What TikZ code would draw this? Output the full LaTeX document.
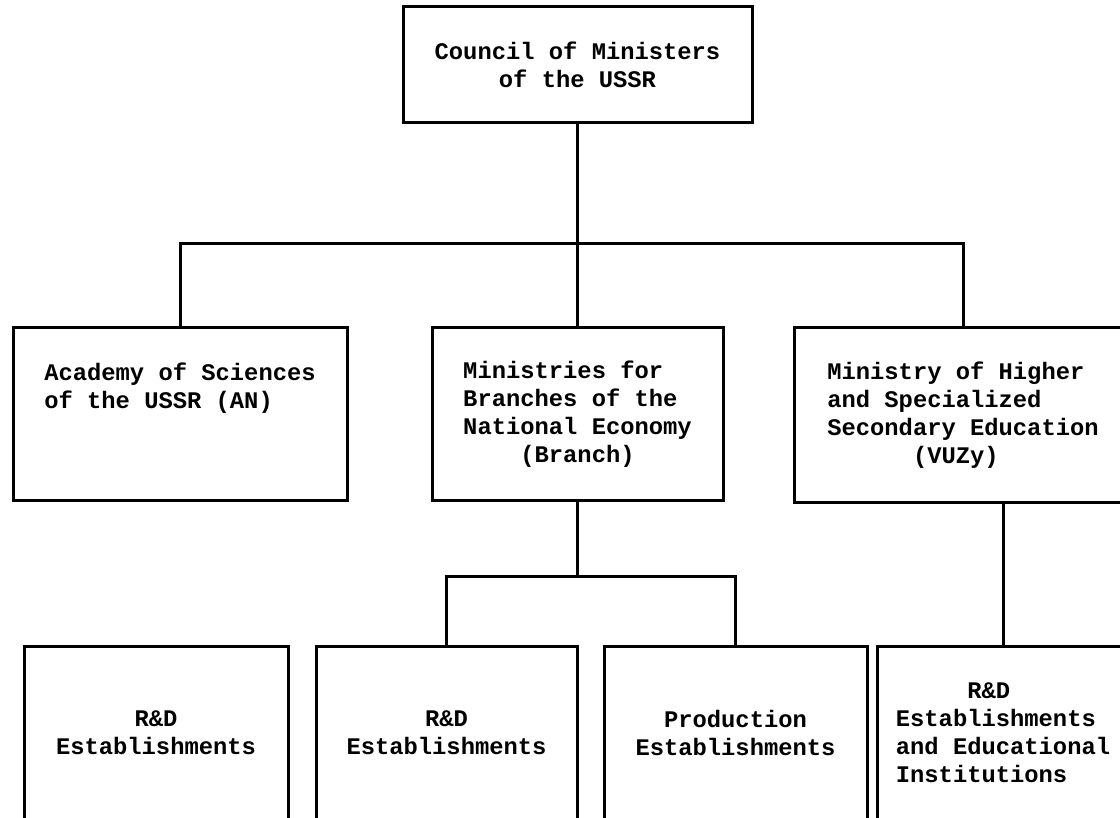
\documentclass[tikz,border=0pt]{standalone}
\usepackage{fontspec}
\setmonofont{Liberation Mono}
\newcommand\pad[1]{\hspace*{#1\fontcharwd\font`M\relax}}
\begin{document}
\begin{tikzpicture}[x=0.5pt,y=-0.5pt,
  unit/.style={draw,line width=1.5pt,inner sep=0pt,
    font=\fontsize{11.9}{14}\selectfont\ttfamily\bfseries},
  link/.style={line width=1.5pt}]
\clip (0,0) rectangle (1120,818);
\node[unit,minimum width=174.5pt,minimum height=58pt,align=center] (ussr) at (577.5,65)
  {Council of Ministers\\of the USSR};
\node[unit,minimum width=167pt,minimum height=86pt,align=left] (an) at (180,414)
  {Academy of Sciences\\of the USSR (AN)\\\mbox{}\\\mbox{}};
\node[unit,minimum width=145.5pt,minimum height=86pt,align=left] (branch) at (577.5,414)
  {Ministries for\\Branches of the\\National Economy\\\pad{4}(Branch)};
\node[unit,minimum width=169pt,minimum height=87pt,align=left] (vuz) at (963,415)
  {Ministry of Higher\\and Specialized\\Secondary Education\\\pad{6}(VUZy)};
\node[unit,minimum width=132pt,minimum height=87pt,align=center] (rd1) at (156,733)
  {R\&D\\Establishments};
\node[unit,minimum width=130.5pt,minimum height=87pt,align=center] (rd2) at (446.5,733)
  {R\&D\\Establishments};
\node[unit,minimum width=131.5pt,minimum height=87pt,align=center] (prod) at (735.5,733)
  {Production\\Establishments};
\node[unit,minimum width=126pt,minimum height=87pt,align=left] (rdedu) at (1003,733)
  {\pad{5}R\&D\\Establishments\\and Educational\\Institutions};
\draw[link] (ussr.south) -- ++(0,119) coordinate (hub);
\draw[link] (an.north) |- (hub) -| (vuz.north);
\draw[link] (hub) -- (branch.north);
\draw[link] (branch.south) -- ++(0,75) coordinate (fork);
\draw[link] (rd2.north) |- (fork) -| (prod.north);
\draw[link] (rdedu.north) -- (rdedu.north |- vuz.south);
\end{tikzpicture}
\end{document}
